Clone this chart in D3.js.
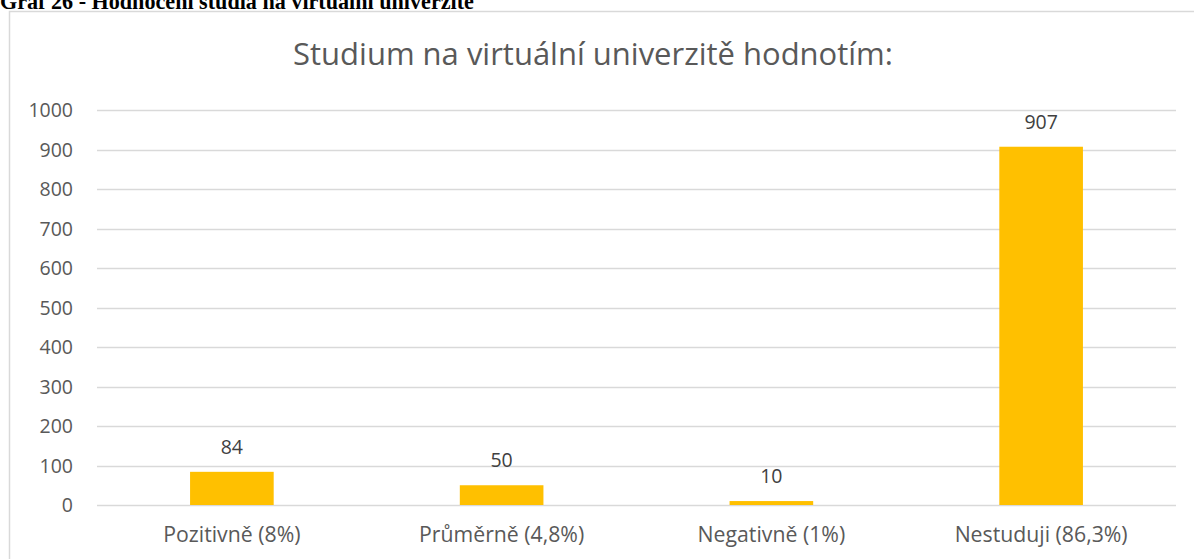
<!DOCTYPE html>
<html lang="cs">
<head>
<meta charset="utf-8">
<script src="https://cdn.jsdelivr.net/npm/d3@7"></script>
<style>
  body { margin: 0; background: #fff; }
</style>
</head>
<body>
<div id="chart"></div>
<script>
  const categories = ["Pozitivně (8%)", "Průměrně (4,8%)", "Negativně (1%)", "Nestuduji (86,3%)"];
  const values = [84, 50, 10, 907];
  const yTicks = [0, 100, 200, 300, 400, 500, 600, 700, 800, 900, 1000];

  const svgWidth = 1194, svgHeight = 559;
  const margin = {top: 110, bottom: 54, left: 97, right: 18};
  const font = "'Open Sans', 'Noto Sans', sans-serif";
  const textColor = "#595959";
  const gridColor = "#D9D9D9";

  const svg = d3.select("#chart").append("svg")
    .attr("width", svgWidth).attr("height", svgHeight);

  const fitText = (sel, target) => {
    const w = sel.node().getComputedTextLength();
    const fs = parseFloat(sel.attr("font-size"));
    sel.attr("font-size", (fs * target / w).toFixed(2) + "px");
  };

  // heading above the frame, cut off by the top edge
  const heading = svg.append("text")
    .attr("x", 0).attr("y", 9)
    .attr("font-family", "'Liberation Serif', serif")
    .attr("font-weight", "bold").attr("font-size", "20px")
    .attr("fill", "#000")
    .text("Graf 26 - Hodnocení studia na virtuální univerzitě");
  fitText(heading, 474);

  // chart frame (only top and left edge visible)
  svg.append("path")
    .attr("d", "M9.5 " + svgHeight + " L9.5 11.5 L" + svgWidth + " 11.5")
    .attr("fill", "none").attr("stroke", gridColor).attr("stroke-width", 1.5);

  const title = svg.append("text")
    .attr("x", 593).attr("y", 65).attr("text-anchor", "middle")
    .attr("font-family", font).attr("font-size", "28px")
    .attr("fill", textColor)
    .text("Studium na virtuální univerzitě hodnotím:");
  fitText(title, 600);

  const x = d3.scaleBand().domain(categories)
    .range([margin.left, svgWidth - margin.right]).paddingInner(0.69).paddingOuter(0.345);
  const y = d3.scaleLinear().domain([0, 1000])
    .range([svgHeight - margin.bottom, margin.top]);

  // gridlines
  svg.append("g").selectAll("line").data(yTicks).join("line")
    .attr("x1", margin.left).attr("x2", svgWidth - margin.right)
    .attr("y1", d => Math.round(y(d)) + 0.5).attr("y2", d => Math.round(y(d)) + 0.5)
    .attr("stroke", gridColor).attr("stroke-width", 1.5);

  // y tick labels
  svg.append("g").selectAll("text").data(yTicks).join("text")
    .attr("x", 73).attr("y", d => y(d)).attr("dy", "0.36em")
    .attr("text-anchor", "end")
    .attr("font-family", font).attr("font-size", "19.5px").attr("fill", textColor)
    .text(d => d);

  // bars
  svg.append("g").selectAll("rect").data(values).join("rect")
    .attr("x", (d, i) => x(categories[i]))
    .attr("width", x.bandwidth())
    .attr("y", d => y(d))
    .attr("height", d => y(0) - y(d))
    .attr("fill", "#FFC000");

  // value labels
  svg.append("g").selectAll("text").data(values).join("text")
    .attr("x", (d, i) => x(categories[i]) + x.bandwidth() / 2)
    .attr("y", d => y(d) - 18)
    .attr("text-anchor", "middle")
    .attr("font-family", font).attr("font-size", "19.5px").attr("fill", "#404040")
    .text(d => d);

  // category labels
  const cat = svg.append("g").selectAll("text").data(categories).join("text")
    .attr("x", d => x(d) + x.bandwidth() / 2)
    .attr("y", 542)
    .attr("text-anchor", "middle")
    .attr("font-family", font).attr("font-size", "16px").attr("fill", textColor)
    .text(d => d);
  fitText(d3.select(cat.nodes()[3]), 173);
  cat.attr("font-size", d3.select(cat.nodes()[3]).attr("font-size"));
</script>
</body>
</html>
